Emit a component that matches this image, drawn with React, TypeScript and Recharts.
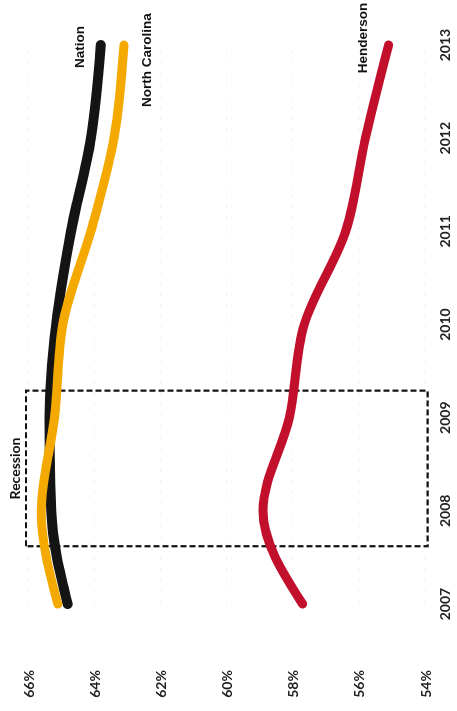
import {
  CartesianGrid,
  Line,
  LineChart,
  ReferenceArea,
  XAxis,
  YAxis,
} from "recharts";

const years = [2007, 2008, 2009, 2010, 2011, 2012, 2013];
const nation = [64.8, 65.3, 65.35, 65.15, 64.7, 64.1, 63.8];
const northCarolina = [65.1, 65.6, 65.2, 64.95, 64.1, 63.4, 63.1];
const henderson = [57.7, 58.9, 58.1, 57.65, 56.4, 55.8, 55.1];
const percentTicks = [54, 56, 58, 60, 62, 64, 66];
const recession = { start: 2007.62, end: 2009.29 };

const data = years.map((year, i) => ({
  year,
  nation: nation[i],
  nc: northCarolina[i],
  henderson: henderson[i],
}));

const tickFont = "Lato, 'Open Sans', sans-serif";
const labelFont = "'Liberation Sans', Arial, sans-serif";

const YearTick = (props: any) => {
  const { x, payload } = props;
  return (
    <text
      x={x}
      y={444}
      textAnchor="middle"
      dominantBaseline="central"
      fontFamily={tickFont}
      fontWeight={700}
      fontSize={14}
      fill="#222"
    >
      {payload.value}
    </text>
  );
};

const PercentTick = (props: any) => {
  const { y, payload } = props;
  return (
    <text
      x={27}
      y={y}
      textAnchor="middle"
      dominantBaseline="central"
      fontFamily={tickFont}
      fontWeight={700}
      fontSize={14}
      fill="#222"
    >
      {payload.value}%
    </text>
  );
};

// label drawn only at the last point (2013)
const endLabel = (text: string, dx: number, dy: number) => (props: any) => {
  if (props.index !== years.length - 1) return <g />;
  return (
    <text
      x={props.x + dx}
      y={props.y + dy}
      textAnchor="middle"
      dominantBaseline="central"
      fontFamily={labelFont}
      fontWeight={700}
      fontSize={13.5}
      fill="#111"
    >
      {text}
    </text>
  );
};

export default function App() {
  return (
    <div
      style={{
        position: "fixed",
        top: 0,
        left: 0,
        width: 711,
        height: 457,
        background: "#fff",
        transformOrigin: "0 0",
        transform: "translateY(711px) rotate(-90deg)",
      }}
    >
      <LineChart
        width={711}
        height={457}
        data={data}
        margin={{ top: 28, right: 45, bottom: 0, left: 0 }}
      >
        <CartesianGrid
          vertical={false}
          stroke="#f0f0f0"
          strokeDasharray="3 8"
        />
        <XAxis
          dataKey="year"
          type="number"
          domain={[2007, 2013]}
          ticks={years}
          height={32}
          axisLine={false}
          tickLine={false}
          tick={<YearTick />}
        />
        <YAxis
          type="number"
          domain={[54, 66]}
          ticks={percentTicks}
          width={107}
          axisLine={false}
          tickLine={false}
          tick={<PercentTick />}
        />
        <ReferenceArea
          x1={recession.start}
          x2={recession.end}
          y1={53.92}
          y2={66.06}
          ifOverflow="visible"
          fill="none"
          stroke="#111"
          strokeWidth={2.2}
          strokeDasharray="6 3"
          label={{
            value: "Recession",
            position: "top",
            offset: 6,
            fill: "#111",
            fontFamily: tickFont,
            fontWeight: 700,
            fontSize: 14,
          }}
        />
        <Line
          dataKey="nation"
          type="monotone"
          stroke="#141414"
          strokeWidth={10}
          strokeLinecap="round"
          dot={false}
          isAnimationActive={false}
          label={endLabel("Nation", -2, -21)}
        />
        <Line
          dataKey="nc"
          type="monotone"
          stroke="#f4a900"
          strokeWidth={9}
          strokeLinecap="round"
          dot={false}
          isAnimationActive={false}
          label={endLabel("North Carolina", -15, 23)}
        />
        <Line
          dataKey="henderson"
          type="monotone"
          stroke="#c20f2b"
          strokeWidth={9}
          strokeLinecap="round"
          dot={false}
          isAnimationActive={false}
          label={endLabel("Henderson", 7, -26)}
        />
      </LineChart>
    </div>
  );
}
